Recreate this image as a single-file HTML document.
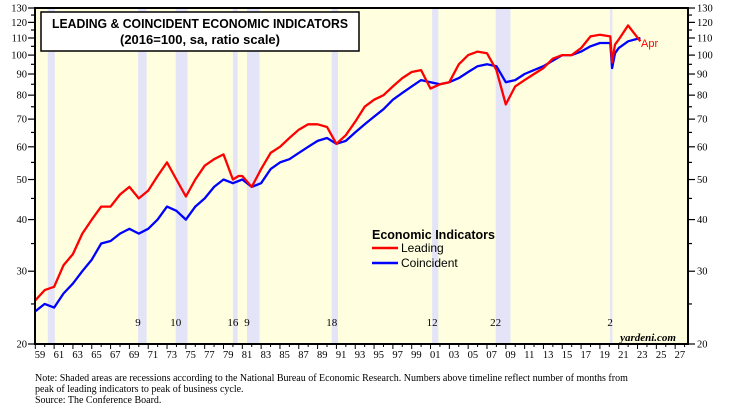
<!DOCTYPE html>
<html><head><meta charset="utf-8"><style>
body{margin:0;background:#fff;}
svg{display:block;font-family:"Liberation Serif",serif;}
</style></head><body>
<svg id="chart" width="729" height="413" viewBox="0 0 729 413">
<rect x="35" y="8" width="653" height="336" fill="#ffffe0"/>
<g id="rec"></g>
<g id="grid"></g>
<g id="lines"></g>
<rect x="35" y="8" width="653" height="336" fill="none" stroke="#000" stroke-width="2"/>
<g>
<rect x="41" y="12" width="318" height="39" fill="#fff" stroke="#000" stroke-width="1.5"/>
<text x="200" y="28" text-anchor="middle" font-family="Liberation Sans" font-weight="bold" font-size="12.5" textLength="296" lengthAdjust="spacingAndGlyphs">LEADING &amp; COINCIDENT ECONOMIC INDICATORS</text>
<text x="200" y="44" text-anchor="middle" font-family="Liberation Sans" font-weight="bold" font-size="12.5" textLength="160" lengthAdjust="spacingAndGlyphs">(2016=100, sa, ratio scale)</text>
</g>
<g font-family="Liberation Sans">
<text x="372" y="239" font-weight="bold" font-size="12.5">Economic Indicators</text>
<line x1="372" y1="248" x2="398" y2="248" stroke="#f00" stroke-width="2.5"/>
<text x="401" y="252" font-size="12">Leading</text>
<line x1="372" y1="263" x2="398" y2="263" stroke="#00f" stroke-width="2.5"/>
<text x="401" y="267" font-size="12">Coincident</text>
</g>
<text x="641" y="47" fill="#f00" font-family="Liberation Sans" font-size="11">Apr</text>
<text x="676" y="341" text-anchor="end" font-style="italic" font-weight="bold" font-size="11">yardeni.com</text>
<g font-size="10">
<text x="35" y="381">Note: Shaded areas are recessions according to the National Bureau of Economic Research. Numbers above timeline reflect number of months from</text>
<text x="35" y="392">peak of leading indicators to peak of business cycle.</text>
<text x="35" y="403">Source: The Conference Board.</text>
</g>
</svg>
<script>
const recStart=[1960.33,1969.92,1973.92,1980.0,1981.5,1990.5,2001.17,2007.92,2020.08];
const recEnd=[1961.08,1970.83,1975.17,1980.5,1982.83,1991.17,2001.83,2009.5,2020.33];
const leadMonths=["","9","10","16","9","18","12","22","2"];
const leadYears=[1959,1960,1961,1962,1963,1964,1965,1966,1967,1968,1969,1970,1971,1972,1973,1974,1975,1976,1977,1978,1979,1980,1980.6,1981,1982,1983,1984,1985,1986,1987,1988,1989,1990,1991,1992,1993,1994,1995,1996,1997,1998,1999,2000,2001,2002,2003,2004,2005,2006,2007,2008,2009,2010,2011,2012,2013,2014,2015,2016,2017,2018,2019,2020.1,2020.3,2020.6,2021,2022,2022.5,2023.3];
const leadVals=[25.5,27,27.5,31,33,37,40,43,43,46,48,45,47,51,55,50,45.5,50,54,56,57.5,50,51,51,48,53,58,60,63,66,68,68,67,61,64,69,75,78,80,84,88,91,92,83,85,86,95,100,102,101,92,76,84,87,90,93,98,100,100,104,111,112,111,96,106,109,118,114,108];
const coinYears=[1959,1960,1961,1962,1963,1964,1965,1966,1967,1968,1969,1970,1971,1972,1973,1974,1975,1976,1977,1978,1979,1980,1981,1982,1983,1984,1985,1986,1987,1988,1989,1990,1991,1992,1993,1994,1995,1996,1997,1998,1999,2000,2001,2002,2003,2004,2005,2006,2007,2008,2009,2010,2011,2012,2013,2014,2015,2016,2017,2018,2019,2020.1,2020.3,2020.6,2021,2022,2023.3];
const coinVals=[24,25,24.5,26.5,28,30,32,35,35.5,37,38,37,38,40,43,42,40,43,45,48,50,49,50,48,49,53,55,56,58,60,62,63,61,62,65,68,71,74,78,81,84,87,86,85,86,88,91,94,95,94,86,87,90,92,94,97,100,100,102,105,107,107,93,101,104,108,110];
const yTicks=[20,30,40,50,60,70,80,90,100,110,120,130];
const xLabels=["59","61","63","65","67","69","71","73","75","77","79","81","83","85","87","89","91","93","95","97","99","01","03","05","07","09","11","13","15","17","19","21","23","25","27"];
const NS="http://www.w3.org/2000/svg";
const X=yr=>35.3+(yr-1959)*9.41;
const Y=v=>344-Math.log(v/20)*179.5;
function mk(tag,attrs,parent){const e=document.createElementNS(NS,tag);for(const k in attrs)e.setAttribute(k,attrs[k]);parent.appendChild(e);return e;}
const rec=document.getElementById('rec');
recStart.forEach((s,i)=>{
 const r=mk('rect',{x:X(s),y:9,width:X(recEnd[i])-X(s),height:334,fill:'#e4e4f8'},rec);
 
 
 if(leadMonths[i]){const t=mk('text',{x:X(s),y:326,'text-anchor':'middle','font-size':'11'},rec);t.textContent=leadMonths[i];
 
 }
});
const g=document.getElementById('grid');
for(let v=20;v<=130;v+=5){
 const major=yTicks.includes(v);const y=Y(v);const L=major?7:4;
 mk('line',{x1:35-L,y1:y,x2:35,y2:y,stroke:'#000','stroke-width':1.2},g);
 mk('line',{x1:688,y1:y,x2:688+L,y2:y,stroke:'#000','stroke-width':1.2},g);
}
yTicks.forEach(v=>{
 const y=Y(v)+3.5;
 const a=mk('text',{x:27,y:y,'text-anchor':'end','font-size':'10.5'},g);a.textContent=v;
 
 
 const b=mk('text',{x:697,y:y,'font-size':'10.5'},g);b.textContent=v;
 
 
});
for(let yr=1959;yr<=2028;yr++){mk('line',{x1:X(yr),y1:344,x2:X(yr),y2:(yr%2?349:347),stroke:'#000','stroke-width':1},g);}
xLabels.forEach((l,i)=>{
 const t=mk('text',{x:X(1959.5+2*i),y:358,'text-anchor':'middle','font-size':'10.5'},g);t.textContent=l;
 
 
});
const ln=document.getElementById('lines');
function path(xs,vs,color,name){
 const d=xs.map((x,i)=>(i?'L':'M')+X(x).toFixed(1)+','+Y(vs[i]).toFixed(1)).join('');
 const p=mk('path',{d:d,fill:'none',stroke:color,'stroke-width':2.3,'stroke-linejoin':'round'},ln);
 
 
}
path(coinYears,coinVals,'#0000ff','coincident-line');
path(leadYears,leadVals,'#ff0000','leading-line');
</script>
</body></html>
